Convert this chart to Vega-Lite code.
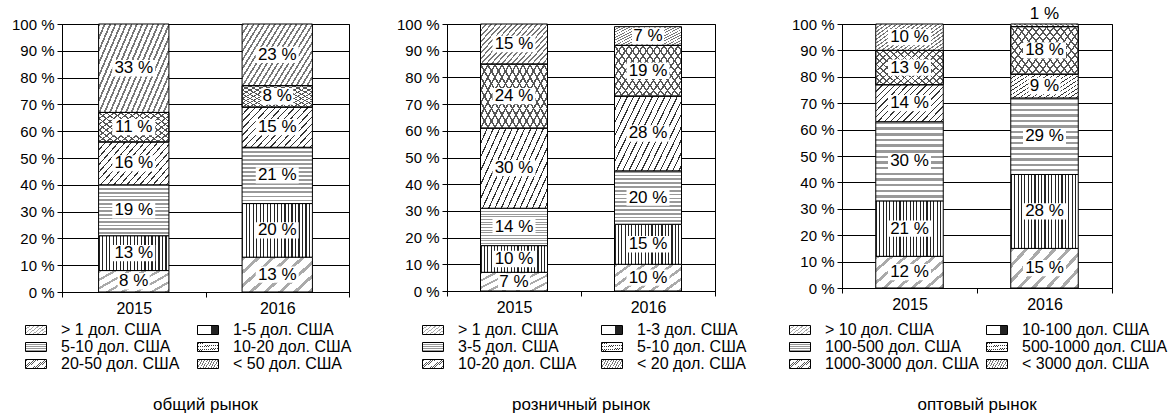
{
"$schema": "https://vega.github.io/schema/vega-lite/v6.json",
"padding": {"left": 10, "top": 4, "right": 5, "bottom": 2},
"params": [
{"name": "g1", "value": {"gradient":"linear","x1":0,"y1":0,"x2":1.3,"y2":0.7,"stops":[
{"offset":0,"color":"#aaa"},{"offset":0.0375,"color":"#aaa"},{"offset":0.0375,"color":"#fff"},{"offset":0.125,"color":"#fff"},
{"offset":0.125,"color":"#aaa"},{"offset":0.1625,"color":"#aaa"},{"offset":0.1625,"color":"#fff"},{"offset":0.25,"color":"#fff"},
{"offset":0.25,"color":"#aaa"},{"offset":0.2875,"color":"#aaa"},{"offset":0.2875,"color":"#fff"},{"offset":0.375,"color":"#fff"},
{"offset":0.375,"color":"#aaa"},{"offset":0.4125,"color":"#aaa"},{"offset":0.4125,"color":"#fff"},{"offset":0.5,"color":"#fff"},
{"offset":0.5,"color":"#aaa"},{"offset":0.5375,"color":"#aaa"},{"offset":0.5375,"color":"#fff"},{"offset":0.625,"color":"#fff"},
{"offset":0.625,"color":"#aaa"},{"offset":0.6625,"color":"#aaa"},{"offset":0.6625,"color":"#fff"},{"offset":0.75,"color":"#fff"},
{"offset":0.75,"color":"#aaa"},{"offset":0.7875,"color":"#aaa"},{"offset":0.7875,"color":"#fff"},{"offset":0.875,"color":"#fff"},
{"offset":0.875,"color":"#aaa"},{"offset":0.9125,"color":"#aaa"},{"offset":0.9125,"color":"#fff"},{"offset":1,"color":"#fff"}]}},
{"name": "g2", "value": {"gradient":"linear","x1":0,"y1":0,"x2":1,"y2":0,"stops":[
{"offset":0,"color":"#222"},{"offset":0.0175,"color":"#222"},{"offset":0.0175,"color":"#fff"},{"offset":0.05,"color":"#fff"},
{"offset":0.05,"color":"#222"},{"offset":0.0675,"color":"#222"},{"offset":0.0675,"color":"#fff"},{"offset":0.1,"color":"#fff"},
{"offset":0.1,"color":"#222"},{"offset":0.1175,"color":"#222"},{"offset":0.1175,"color":"#fff"},{"offset":0.15,"color":"#fff"},
{"offset":0.15,"color":"#222"},{"offset":0.1675,"color":"#222"},{"offset":0.1675,"color":"#fff"},{"offset":0.2,"color":"#fff"},
{"offset":0.2,"color":"#222"},{"offset":0.2175,"color":"#222"},{"offset":0.2175,"color":"#fff"},{"offset":0.25,"color":"#fff"},
{"offset":0.25,"color":"#222"},{"offset":0.2675,"color":"#222"},{"offset":0.2675,"color":"#fff"},{"offset":0.3,"color":"#fff"},
{"offset":0.3,"color":"#222"},{"offset":0.3175,"color":"#222"},{"offset":0.3175,"color":"#fff"},{"offset":0.35,"color":"#fff"},
{"offset":0.35,"color":"#222"},{"offset":0.3675,"color":"#222"},{"offset":0.3675,"color":"#fff"},{"offset":0.4,"color":"#fff"},
{"offset":0.4,"color":"#222"},{"offset":0.4175,"color":"#222"},{"offset":0.4175,"color":"#fff"},{"offset":0.45,"color":"#fff"},
{"offset":0.45,"color":"#222"},{"offset":0.4675,"color":"#222"},{"offset":0.4675,"color":"#fff"},{"offset":0.5,"color":"#fff"},
{"offset":0.5,"color":"#222"},{"offset":0.5175,"color":"#222"},{"offset":0.5175,"color":"#fff"},{"offset":0.55,"color":"#fff"},
{"offset":0.55,"color":"#222"},{"offset":0.5675,"color":"#222"},{"offset":0.5675,"color":"#fff"},{"offset":0.6,"color":"#fff"},
{"offset":0.6,"color":"#222"},{"offset":0.6175,"color":"#222"},{"offset":0.6175,"color":"#fff"},{"offset":0.65,"color":"#fff"},
{"offset":0.65,"color":"#222"},{"offset":0.6675,"color":"#222"},{"offset":0.6675,"color":"#fff"},{"offset":0.7,"color":"#fff"},
{"offset":0.7,"color":"#222"},{"offset":0.7175,"color":"#222"},{"offset":0.7175,"color":"#fff"},{"offset":0.75,"color":"#fff"},
{"offset":0.75,"color":"#222"},{"offset":0.7675,"color":"#222"},{"offset":0.7675,"color":"#fff"},{"offset":0.8,"color":"#fff"},
{"offset":0.8,"color":"#222"},{"offset":0.8175,"color":"#222"},{"offset":0.8175,"color":"#fff"},{"offset":0.85,"color":"#fff"},
{"offset":0.85,"color":"#222"},{"offset":0.8675,"color":"#222"},{"offset":0.8675,"color":"#fff"},{"offset":0.9,"color":"#fff"},
{"offset":0.9,"color":"#222"},{"offset":0.9175,"color":"#222"},{"offset":0.9175,"color":"#fff"},{"offset":0.95,"color":"#fff"},
{"offset":0.95,"color":"#222"},{"offset":0.9675,"color":"#222"},{"offset":0.9675,"color":"#fff"},{"offset":1,"color":"#fff"}]}},
{"name": "g2l", "value": {"gradient":"linear","x1":0,"y1":0,"x2":1,"y2":0,"stops":[
{"offset":0,"color":"#fff"},{"offset":0.1,"color":"#fff"},{"offset":0.1,"color":"#222"},{"offset":0.16,"color":"#222"},{"offset":0.16,"color":"#fff"},
{"offset":0.26,"color":"#fff"},{"offset":0.26,"color":"#222"},{"offset":0.32,"color":"#222"},{"offset":0.32,"color":"#fff"},
{"offset":0.42,"color":"#fff"},{"offset":0.42,"color":"#222"},{"offset":0.48,"color":"#222"},{"offset":0.48,"color":"#fff"},
{"offset":0.58,"color":"#fff"},{"offset":0.58,"color":"#222"},{"offset":0.64,"color":"#222"},{"offset":0.64,"color":"#fff"},
{"offset":0.74,"color":"#fff"},{"offset":0.74,"color":"#222"},{"offset":0.8,"color":"#222"},{"offset":0.8,"color":"#fff"},{"offset":1,"color":"#fff"}]}},
{"name": "g3", "value": {"gradient":"linear","x1":0,"y1":0,"x2":0,"y2":1,"stops":[
{"offset":0,"color":"#999"},{"offset":0.0321,"color":"#999"},{"offset":0.0321,"color":"#fff"},{"offset":0.0714,"color":"#fff"},
{"offset":0.0714,"color":"#999"},{"offset":0.1035,"color":"#999"},{"offset":0.1035,"color":"#fff"},{"offset":0.1429,"color":"#fff"},
{"offset":0.1429,"color":"#999"},{"offset":0.175,"color":"#999"},{"offset":0.175,"color":"#fff"},{"offset":0.2143,"color":"#fff"},
{"offset":0.2143,"color":"#999"},{"offset":0.2464,"color":"#999"},{"offset":0.2464,"color":"#fff"},{"offset":0.2857,"color":"#fff"},
{"offset":0.2857,"color":"#999"},{"offset":0.3178,"color":"#999"},{"offset":0.3178,"color":"#fff"},{"offset":0.3571,"color":"#fff"},
{"offset":0.3571,"color":"#999"},{"offset":0.3892,"color":"#999"},{"offset":0.3892,"color":"#fff"},{"offset":0.4286,"color":"#fff"},
{"offset":0.4286,"color":"#999"},{"offset":0.4607,"color":"#999"},{"offset":0.4607,"color":"#fff"},{"offset":0.5,"color":"#fff"},
{"offset":0.5,"color":"#999"},{"offset":0.5321,"color":"#999"},{"offset":0.5321,"color":"#fff"},{"offset":0.5714,"color":"#fff"},
{"offset":0.5714,"color":"#999"},{"offset":0.6035,"color":"#999"},{"offset":0.6035,"color":"#fff"},{"offset":0.6429,"color":"#fff"},
{"offset":0.6429,"color":"#999"},{"offset":0.675,"color":"#999"},{"offset":0.675,"color":"#fff"},{"offset":0.7143,"color":"#fff"},
{"offset":0.7143,"color":"#999"},{"offset":0.7464,"color":"#999"},{"offset":0.7464,"color":"#fff"},{"offset":0.7857,"color":"#fff"},
{"offset":0.7857,"color":"#999"},{"offset":0.8178,"color":"#999"},{"offset":0.8178,"color":"#fff"},{"offset":0.8571,"color":"#fff"},
{"offset":0.8571,"color":"#999"},{"offset":0.8892,"color":"#999"},{"offset":0.8892,"color":"#fff"},{"offset":0.9286,"color":"#fff"},
{"offset":0.9286,"color":"#999"},{"offset":0.9607,"color":"#999"},{"offset":0.9607,"color":"#fff"},{"offset":1,"color":"#fff"}]}},
{"name": "g4", "value": {"gradient":"linear","x1":0,"y1":0,"x2":1.3,"y2":0.7,"stops":[
{"offset":0,"color":"#333"},{"offset":0.0111,"color":"#333"},{"offset":0.0111,"color":"#fff"},{"offset":0.0556,"color":"#fff"},
{"offset":0.0556,"color":"#333"},{"offset":0.0667,"color":"#333"},{"offset":0.0667,"color":"#fff"},{"offset":0.1111,"color":"#fff"},
{"offset":0.1111,"color":"#333"},{"offset":0.1222,"color":"#333"},{"offset":0.1222,"color":"#fff"},{"offset":0.1667,"color":"#fff"},
{"offset":0.1667,"color":"#333"},{"offset":0.1778,"color":"#333"},{"offset":0.1778,"color":"#fff"},{"offset":0.2222,"color":"#fff"},
{"offset":0.2222,"color":"#333"},{"offset":0.2333,"color":"#333"},{"offset":0.2333,"color":"#fff"},{"offset":0.2778,"color":"#fff"},
{"offset":0.2778,"color":"#333"},{"offset":0.2889,"color":"#333"},{"offset":0.2889,"color":"#fff"},{"offset":0.3333,"color":"#fff"},
{"offset":0.3333,"color":"#333"},{"offset":0.3444,"color":"#333"},{"offset":0.3444,"color":"#fff"},{"offset":0.3889,"color":"#fff"},
{"offset":0.3889,"color":"#333"},{"offset":0.4,"color":"#333"},{"offset":0.4,"color":"#fff"},{"offset":0.4444,"color":"#fff"},
{"offset":0.4444,"color":"#333"},{"offset":0.4555,"color":"#333"},{"offset":0.4555,"color":"#fff"},{"offset":0.5,"color":"#fff"},
{"offset":0.5,"color":"#333"},{"offset":0.5111,"color":"#333"},{"offset":0.5111,"color":"#fff"},{"offset":0.5556,"color":"#fff"},
{"offset":0.5556,"color":"#333"},{"offset":0.5667,"color":"#333"},{"offset":0.5667,"color":"#fff"},{"offset":0.6111,"color":"#fff"},
{"offset":0.6111,"color":"#333"},{"offset":0.6222,"color":"#333"},{"offset":0.6222,"color":"#fff"},{"offset":0.6667,"color":"#fff"},
{"offset":0.6667,"color":"#333"},{"offset":0.6778,"color":"#333"},{"offset":0.6778,"color":"#fff"},{"offset":0.7222,"color":"#fff"},
{"offset":0.7222,"color":"#333"},{"offset":0.7333,"color":"#333"},{"offset":0.7333,"color":"#fff"},{"offset":0.7778,"color":"#fff"},
{"offset":0.7778,"color":"#333"},{"offset":0.7889,"color":"#333"},{"offset":0.7889,"color":"#fff"},{"offset":0.8333,"color":"#fff"},
{"offset":0.8333,"color":"#333"},{"offset":0.8444,"color":"#333"},{"offset":0.8444,"color":"#fff"},{"offset":0.8889,"color":"#fff"},
{"offset":0.8889,"color":"#333"},{"offset":0.9,"color":"#333"},{"offset":0.9,"color":"#fff"},{"offset":1,"color":"#fff"}]}},
{"name": "g5", "value": {"gradient":"linear","x1":0,"y1":1,"x2":1.3,"y2":0.3,"stops":[
{"offset":0,"color":"#555"},{"offset":0.0156,"color":"#555"},{"offset":0.0156,"color":"#fff"},{"offset":0.0625,"color":"#fff"},
{"offset":0.0625,"color":"#555"},{"offset":0.0781,"color":"#555"},{"offset":0.0781,"color":"#fff"},{"offset":0.125,"color":"#fff"},
{"offset":0.125,"color":"#555"},{"offset":0.1406,"color":"#555"},{"offset":0.1406,"color":"#fff"},{"offset":0.1875,"color":"#fff"},
{"offset":0.1875,"color":"#555"},{"offset":0.2031,"color":"#555"},{"offset":0.2031,"color":"#fff"},{"offset":0.25,"color":"#fff"},
{"offset":0.25,"color":"#555"},{"offset":0.2656,"color":"#555"},{"offset":0.2656,"color":"#fff"},{"offset":0.3125,"color":"#fff"},
{"offset":0.3125,"color":"#555"},{"offset":0.3281,"color":"#555"},{"offset":0.3281,"color":"#fff"},{"offset":0.375,"color":"#fff"},
{"offset":0.375,"color":"#555"},{"offset":0.3906,"color":"#555"},{"offset":0.3906,"color":"#fff"},{"offset":0.4375,"color":"#fff"},
{"offset":0.4375,"color":"#555"},{"offset":0.4531,"color":"#555"},{"offset":0.4531,"color":"#fff"},{"offset":0.5,"color":"#fff"},
{"offset":0.5,"color":"#555"},{"offset":0.5156,"color":"#555"},{"offset":0.5156,"color":"#fff"},{"offset":0.5625,"color":"#fff"},
{"offset":0.5625,"color":"#555"},{"offset":0.5781,"color":"#555"},{"offset":0.5781,"color":"#fff"},{"offset":0.625,"color":"#fff"},
{"offset":0.625,"color":"#555"},{"offset":0.6406,"color":"#555"},{"offset":0.6406,"color":"#fff"},{"offset":0.6875,"color":"#fff"},
{"offset":0.6875,"color":"#555"},{"offset":0.7031,"color":"#555"},{"offset":0.7031,"color":"#fff"},{"offset":0.75,"color":"#fff"},
{"offset":0.75,"color":"#555"},{"offset":0.7656,"color":"#555"},{"offset":0.7656,"color":"#fff"},{"offset":0.8125,"color":"#fff"},
{"offset":0.8125,"color":"#555"},{"offset":0.8281,"color":"#555"},{"offset":0.8281,"color":"#fff"},{"offset":0.875,"color":"#fff"},
{"offset":0.875,"color":"#555"},{"offset":0.8906,"color":"#555"},{"offset":0.8906,"color":"#fff"},{"offset":1,"color":"#fff"}]}},
{"name": "g5b", "value": {"gradient":"linear","x1":0,"y1":0,"x2":1.3,"y2":0.7,"stops":[
{"offset":0,"color":"#555"},{"offset":0.0156,"color":"#555"},{"offset":0.0156,"color":"rgba(255,255,255,0)"},{"offset":0.0625,"color":"rgba(255,255,255,0)"},
{"offset":0.0625,"color":"#555"},{"offset":0.0781,"color":"#555"},{"offset":0.0781,"color":"rgba(255,255,255,0)"},{"offset":0.125,"color":"rgba(255,255,255,0)"},
{"offset":0.125,"color":"#555"},{"offset":0.1406,"color":"#555"},{"offset":0.1406,"color":"rgba(255,255,255,0)"},{"offset":0.1875,"color":"rgba(255,255,255,0)"},
{"offset":0.1875,"color":"#555"},{"offset":0.2031,"color":"#555"},{"offset":0.2031,"color":"rgba(255,255,255,0)"},{"offset":0.25,"color":"rgba(255,255,255,0)"},
{"offset":0.25,"color":"#555"},{"offset":0.2656,"color":"#555"},{"offset":0.2656,"color":"rgba(255,255,255,0)"},{"offset":0.3125,"color":"rgba(255,255,255,0)"},
{"offset":0.3125,"color":"#555"},{"offset":0.3281,"color":"#555"},{"offset":0.3281,"color":"rgba(255,255,255,0)"},{"offset":0.375,"color":"rgba(255,255,255,0)"},
{"offset":0.375,"color":"#555"},{"offset":0.3906,"color":"#555"},{"offset":0.3906,"color":"rgba(255,255,255,0)"},{"offset":0.4375,"color":"rgba(255,255,255,0)"},
{"offset":0.4375,"color":"#555"},{"offset":0.4531,"color":"#555"},{"offset":0.4531,"color":"rgba(255,255,255,0)"},{"offset":0.5,"color":"rgba(255,255,255,0)"},
{"offset":0.5,"color":"#555"},{"offset":0.5156,"color":"#555"},{"offset":0.5156,"color":"rgba(255,255,255,0)"},{"offset":0.5625,"color":"rgba(255,255,255,0)"},
{"offset":0.5625,"color":"#555"},{"offset":0.5781,"color":"#555"},{"offset":0.5781,"color":"rgba(255,255,255,0)"},{"offset":0.625,"color":"rgba(255,255,255,0)"},
{"offset":0.625,"color":"#555"},{"offset":0.6406,"color":"#555"},{"offset":0.6406,"color":"rgba(255,255,255,0)"},{"offset":0.6875,"color":"rgba(255,255,255,0)"},
{"offset":0.6875,"color":"#555"},{"offset":0.7031,"color":"#555"},{"offset":0.7031,"color":"rgba(255,255,255,0)"},{"offset":0.75,"color":"rgba(255,255,255,0)"},
{"offset":0.75,"color":"#555"},{"offset":0.7656,"color":"#555"},{"offset":0.7656,"color":"rgba(255,255,255,0)"},{"offset":0.8125,"color":"rgba(255,255,255,0)"},
{"offset":0.8125,"color":"#555"},{"offset":0.8281,"color":"#555"},{"offset":0.8281,"color":"rgba(255,255,255,0)"},{"offset":0.875,"color":"rgba(255,255,255,0)"},
{"offset":0.875,"color":"#555"},{"offset":0.8906,"color":"#555"},{"offset":0.8906,"color":"rgba(255,255,255,0)"},{"offset":1,"color":"rgba(255,255,255,0)"}]}},
{"name": "g6", "value": {"gradient":"linear","x1":0,"y1":0,"x2":1.3,"y2":0.7,"stops":[
{"offset":0,"color":"#777"},{"offset":0.0159,"color":"#777"},{"offset":0.0159,"color":"#fff"},{"offset":0.0455,"color":"#fff"},
{"offset":0.0455,"color":"#777"},{"offset":0.0614,"color":"#777"},{"offset":0.0614,"color":"#fff"},{"offset":0.0909,"color":"#fff"},
{"offset":0.0909,"color":"#777"},{"offset":0.1068,"color":"#777"},{"offset":0.1068,"color":"#fff"},{"offset":0.1364,"color":"#fff"},
{"offset":0.1364,"color":"#777"},{"offset":0.1523,"color":"#777"},{"offset":0.1523,"color":"#fff"},{"offset":0.1818,"color":"#fff"},
{"offset":0.1818,"color":"#777"},{"offset":0.1977,"color":"#777"},{"offset":0.1977,"color":"#fff"},{"offset":0.2273,"color":"#fff"},
{"offset":0.2273,"color":"#777"},{"offset":0.2432,"color":"#777"},{"offset":0.2432,"color":"#fff"},{"offset":0.2727,"color":"#fff"},
{"offset":0.2727,"color":"#777"},{"offset":0.2886,"color":"#777"},{"offset":0.2886,"color":"#fff"},{"offset":0.3182,"color":"#fff"},
{"offset":0.3182,"color":"#777"},{"offset":0.3341,"color":"#777"},{"offset":0.3341,"color":"#fff"},{"offset":0.3636,"color":"#fff"},
{"offset":0.3636,"color":"#777"},{"offset":0.3795,"color":"#777"},{"offset":0.3795,"color":"#fff"},{"offset":0.4091,"color":"#fff"},
{"offset":0.4091,"color":"#777"},{"offset":0.425,"color":"#777"},{"offset":0.425,"color":"#fff"},{"offset":0.4545,"color":"#fff"},
{"offset":0.4545,"color":"#777"},{"offset":0.4704,"color":"#777"},{"offset":0.4704,"color":"#fff"},{"offset":0.5,"color":"#fff"},
{"offset":0.5,"color":"#777"},{"offset":0.5159,"color":"#777"},{"offset":0.5159,"color":"#fff"},{"offset":0.5455,"color":"#fff"},
{"offset":0.5455,"color":"#777"},{"offset":0.5614,"color":"#777"},{"offset":0.5614,"color":"#fff"},{"offset":0.5909,"color":"#fff"},
{"offset":0.5909,"color":"#777"},{"offset":0.6068,"color":"#777"},{"offset":0.6068,"color":"#fff"},{"offset":0.6364,"color":"#fff"},
{"offset":0.6364,"color":"#777"},{"offset":0.6523,"color":"#777"},{"offset":0.6523,"color":"#fff"},{"offset":0.6818,"color":"#fff"},
{"offset":0.6818,"color":"#777"},{"offset":0.6977,"color":"#777"},{"offset":0.6977,"color":"#fff"},{"offset":0.7273,"color":"#fff"},
{"offset":0.7273,"color":"#777"},{"offset":0.7432,"color":"#777"},{"offset":0.7432,"color":"#fff"},{"offset":0.7727,"color":"#fff"},
{"offset":0.7727,"color":"#777"},{"offset":0.7886,"color":"#777"},{"offset":0.7886,"color":"#fff"},{"offset":0.8182,"color":"#fff"},
{"offset":0.8182,"color":"#777"},{"offset":0.8341,"color":"#777"},{"offset":0.8341,"color":"#fff"},{"offset":0.8636,"color":"#fff"},
{"offset":0.8636,"color":"#777"},{"offset":0.8795,"color":"#777"},{"offset":0.8795,"color":"#fff"},{"offset":0.9091,"color":"#fff"},
{"offset":0.9091,"color":"#777"},{"offset":0.925,"color":"#777"},{"offset":0.925,"color":"#fff"},{"offset":1,"color":"#fff"}]}}
],
"data": {"values": [
{"market":"общий рынок","year":"2015","cat":1,"label":"> 1 дол. США","value":8},
{"market":"общий рынок","year":"2015","cat":2,"label":"1-5 дол. США","value":13},
{"market":"общий рынок","year":"2015","cat":3,"label":"5-10 дол. США","value":19},
{"market":"общий рынок","year":"2015","cat":4,"label":"10-20 дол. США","value":16},
{"market":"общий рынок","year":"2015","cat":5,"label":"20-50 дол. США","value":11},
{"market":"общий рынок","year":"2015","cat":6,"label":"< 50 дол. США","value":33},
{"market":"общий рынок","year":"2016","cat":1,"label":"> 1 дол. США","value":13},
{"market":"общий рынок","year":"2016","cat":2,"label":"1-5 дол. США","value":20},
{"market":"общий рынок","year":"2016","cat":3,"label":"5-10 дол. США","value":21},
{"market":"общий рынок","year":"2016","cat":4,"label":"10-20 дол. США","value":15},
{"market":"общий рынок","year":"2016","cat":5,"label":"20-50 дол. США","value":8},
{"market":"общий рынок","year":"2016","cat":6,"label":"< 50 дол. США","value":23},
{"market":"розничный рынок","year":"2015","cat":1,"label":"> 1 дол. США","value":7},
{"market":"розничный рынок","year":"2015","cat":2,"label":"1-3 дол. США","value":10},
{"market":"розничный рынок","year":"2015","cat":3,"label":"3-5 дол. США","value":14},
{"market":"розничный рынок","year":"2015","cat":4,"label":"5-10 дол. США","value":30},
{"market":"розничный рынок","year":"2015","cat":5,"label":"10-20 дол. США","value":24},
{"market":"розничный рынок","year":"2015","cat":6,"label":"< 20 дол. США","value":15},
{"market":"розничный рынок","year":"2016","cat":1,"label":"> 1 дол. США","value":10},
{"market":"розничный рынок","year":"2016","cat":2,"label":"1-3 дол. США","value":15},
{"market":"розничный рынок","year":"2016","cat":3,"label":"3-5 дол. США","value":20},
{"market":"розничный рынок","year":"2016","cat":4,"label":"5-10 дол. США","value":28},
{"market":"розничный рынок","year":"2016","cat":5,"label":"10-20 дол. США","value":19},
{"market":"розничный рынок","year":"2016","cat":6,"label":"< 20 дол. США","value":7},
{"market":"оптовый рынок","year":"2015","cat":1,"label":"> 10 дол. США","value":12},
{"market":"оптовый рынок","year":"2015","cat":2,"label":"10-100 дол. США","value":21},
{"market":"оптовый рынок","year":"2015","cat":3,"label":"100-500 дол. США","value":30},
{"market":"оптовый рынок","year":"2015","cat":4,"label":"500-1000 дол. США","value":14},
{"market":"оптовый рынок","year":"2015","cat":5,"label":"1000-3000 дол. США","value":13},
{"market":"оптовый рынок","year":"2015","cat":6,"label":"< 3000 дол. США","value":10},
{"market":"оптовый рынок","year":"2016","cat":1,"label":"> 10 дол. США","value":15},
{"market":"оптовый рынок","year":"2016","cat":2,"label":"10-100 дол. США","value":28},
{"market":"оптовый рынок","year":"2016","cat":3,"label":"100-500 дол. США","value":29},
{"market":"оптовый рынок","year":"2016","cat":4,"label":"500-1000 дол. США","value":9},
{"market":"оптовый рынок","year":"2016","cat":5,"label":"1000-3000 дол. США","value":18},
{"market":"оптовый рынок","year":"2016","cat":6,"label":"< 3000 дол. США","value":1}
]},
"transform": [
{"stack": "value", "groupby": ["market", "year"], "sort": [{"field": "cat", "order": "ascending"}], "as": ["y0", "y1"]},
{"calculate": "(datum.y0 + datum.y1) / 2", "as": "ym"},
{"calculate": "datum.value + ' %'", "as": "txt"}
],
"spacing": 42,
"resolve": {"scale": {"x": "independent", "y": "independent", "fill": "independent"}, "legend": {"fill": "independent"}},
"hconcat": [
{
"width": 287, "height": 268,
"title": {"text": "общий рынок", "orient": "bottom", "offset": 25},
"transform": [{"filter": "datum.market == 'общий рынок'"}],
"encoding": {"x": {"field": "year", "type": "ordinal", "scale": {"paddingInner": 0, "paddingOuter": 0}, "axis": {"labelAngle": 0, "tickBand": "extent", "title": null, "labelPadding": 3, "tickSize": 5, "labelFontSize": 16}}},
"layer": [
{"mark": {"type": "bar", "width": {"band": 0.49}, "stroke": "black", "strokeWidth": 1},
 "encoding": {
  "y": {"field": "y0", "type": "quantitative", "scale": {"domain": [0, 100]}, "axis": {"tickCount": 10, "labelExpr": "datum.value + ' %'", "grid": true, "title": null, "tickSize": 5, "labelPadding": 3}},
  "y2": {"field": "y1"},
  "fill": {"field": "label", "type": "nominal", "scale": {"domain": ["> 1 дол. США","5-10 дол. США","20-50 дол. США","1-5 дол. США","10-20 дол. США","< 50 дол. США"], "range": [{"expr": "g1"}, {"expr": "g3"}, {"expr": "g5"}, {"expr": "g2"}, {"expr": "g4"}, {"expr": "g6"}]}, "legend": {"orient": "none", "legendX": -34, "legendY": 298, "columnPadding": 15, "encode": {"symbols": {"update": {"fill": {"signal": "[g1, g3, g5, g2l, g4, g6][datum.index]"}, "stroke": {"value": "black"}, "strokeWidth": {"value": 1}}}}}}}},
{"transform": [{"filter": "datum.cat == 5"}], "mark": {"type": "bar", "width": {"band": 0.49}, "fill": {"expr": "g5b"}, "stroke": "black", "strokeWidth": 1},
 "encoding": {"y": {"field": "y0", "type": "quantitative", "axis": {"tickCount": 10, "labelExpr": "datum.value + ' %'", "grid": true, "title": null, "tickSize": 5, "labelPadding": 3}}, "y2": {"field": "y1"}}},
{"transform": [{"filter": "datum.value >= 10"}], "mark": {"type": "point", "shape": "M-1,-0.38H1V0.38H-1Z", "size": 1849, "filled": true, "fill": "white", "opacity": 1, "strokeWidth": 0},
 "encoding": {"y": {"field": "ym", "type": "quantitative", "axis": {"tickCount": 10, "labelExpr": "datum.value + ' %'", "grid": true, "title": null, "tickSize": 5, "labelPadding": 3}}}},
{"transform": [{"filter": "datum.value >= 3 && datum.value < 10"}], "mark": {"type": "point", "shape": "M-1,-0.52H1V0.52H-1Z", "size": 1024, "filled": true, "fill": "white", "opacity": 1, "strokeWidth": 0},
 "encoding": {"y": {"field": "ym", "type": "quantitative", "axis": {"tickCount": 10, "labelExpr": "datum.value + ' %'", "grid": true, "title": null, "tickSize": 5, "labelPadding": 3}}}},
{"transform": [{"filter": "datum.value >= 3"}], "mark": {"type": "text", "fontSize": 17, "baseline": "middle", "fill": "black"},
 "encoding": {"y": {"field": "ym", "type": "quantitative", "axis": {"tickCount": 10, "labelExpr": "datum.value + ' %'", "grid": true, "title": null, "tickSize": 5, "labelPadding": 3}}, "text": {"field": "txt"}}},
{"transform": [{"filter": "datum.value < 3"}], "mark": {"type": "text", "fontSize": 17, "baseline": "middle", "fill": "black", "dy": -10},
 "encoding": {"y": {"field": "y1", "type": "quantitative", "axis": {"tickCount": 10, "labelExpr": "datum.value + ' %'", "grid": true, "title": null, "tickSize": 5, "labelPadding": 3}}, "text": {"field": "txt"}}}
]
},
{
"width": 268, "height": 267,
"title": {"text": "розничный рынок", "orient": "bottom", "offset": 25},
"transform": [{"filter": "datum.market == 'розничный рынок'"}],
"encoding": {"x": {"field": "year", "type": "ordinal", "scale": {"paddingInner": 0, "paddingOuter": 0}, "axis": {"labelAngle": 0, "tickBand": "extent", "title": null, "labelPadding": 3, "tickSize": 5, "labelFontSize": 16}}},
"layer": [
{"mark": {"type": "bar", "width": {"band": 0.5}, "stroke": "black", "strokeWidth": 1},
 "encoding": {
  "y": {"field": "y0", "type": "quantitative", "scale": {"domain": [0, 100]}, "axis": {"tickCount": 10, "labelExpr": "datum.value + ' %'", "grid": true, "title": null, "tickSize": 5, "labelPadding": 3}},
  "y2": {"field": "y1"},
  "fill": {"field": "label", "type": "nominal", "scale": {"domain": ["> 1 дол. США","3-5 дол. США","10-20 дол. США","1-3 дол. США","5-10 дол. США","< 20 дол. США"], "range": [{"expr": "g1"}, {"expr": "g3"}, {"expr": "g5"}, {"expr": "g2"}, {"expr": "g4"}, {"expr": "g6"}]}, "legend": {"orient": "none", "legendX": -22, "legendY": 298, "columnPadding": 22, "encode": {"symbols": {"update": {"fill": {"signal": "[g1, g3, g5, g2l, g4, g6][datum.index]"}, "stroke": {"value": "black"}, "strokeWidth": {"value": 1}}}}}}}},
{"transform": [{"filter": "datum.cat == 5"}], "mark": {"type": "bar", "width": {"band": 0.5}, "fill": {"expr": "g5b"}, "stroke": "black", "strokeWidth": 1},
 "encoding": {"y": {"field": "y0", "type": "quantitative", "axis": {"tickCount": 10, "labelExpr": "datum.value + ' %'", "grid": true, "title": null, "tickSize": 5, "labelPadding": 3}}, "y2": {"field": "y1"}}},
{"transform": [{"filter": "datum.value >= 10"}], "mark": {"type": "point", "shape": "M-1,-0.38H1V0.38H-1Z", "size": 1849, "filled": true, "fill": "white", "opacity": 1, "strokeWidth": 0},
 "encoding": {"y": {"field": "ym", "type": "quantitative", "axis": {"tickCount": 10, "labelExpr": "datum.value + ' %'", "grid": true, "title": null, "tickSize": 5, "labelPadding": 3}}}},
{"transform": [{"filter": "datum.value >= 3 && datum.value < 10"}], "mark": {"type": "point", "shape": "M-1,-0.52H1V0.52H-1Z", "size": 1024, "filled": true, "fill": "white", "opacity": 1, "strokeWidth": 0},
 "encoding": {"y": {"field": "ym", "type": "quantitative", "axis": {"tickCount": 10, "labelExpr": "datum.value + ' %'", "grid": true, "title": null, "tickSize": 5, "labelPadding": 3}}}},
{"transform": [{"filter": "datum.value >= 3"}], "mark": {"type": "text", "fontSize": 17, "baseline": "middle", "fill": "black"},
 "encoding": {"y": {"field": "ym", "type": "quantitative", "axis": {"tickCount": 10, "labelExpr": "datum.value + ' %'", "grid": true, "title": null, "tickSize": 5, "labelPadding": 3}}, "text": {"field": "txt"}}},
{"transform": [{"filter": "datum.value < 3"}], "mark": {"type": "text", "fontSize": 17, "baseline": "middle", "fill": "black", "dy": -10},
 "encoding": {"y": {"field": "y1", "type": "quantitative", "axis": {"tickCount": 10, "labelExpr": "datum.value + ' %'", "grid": true, "title": null, "tickSize": 5, "labelPadding": 3}}, "text": {"field": "txt"}}}
]
},
{
"width": 270, "height": 264,
"title": {"text": "оптовый рынок", "orient": "bottom", "offset": 25},
"transform": [{"filter": "datum.market == 'оптовый рынок'"}],
"encoding": {"x": {"field": "year", "type": "ordinal", "scale": {"paddingInner": 0, "paddingOuter": 0}, "axis": {"labelAngle": 0, "tickBand": "extent", "title": null, "labelPadding": 3, "tickSize": 5, "labelFontSize": 16}}},
"layer": [
{"mark": {"type": "bar", "width": {"band": 0.5}, "stroke": "black", "strokeWidth": 1},
 "encoding": {
  "y": {"field": "y0", "type": "quantitative", "scale": {"domain": [0, 100]}, "axis": {"tickCount": 10, "labelExpr": "datum.value + ' %'", "grid": true, "title": null, "tickSize": 5, "labelPadding": 3}},
  "y2": {"field": "y1"},
  "fill": {"field": "label", "type": "nominal", "scale": {"domain": ["> 10 дол. США","100-500 дол. США","1000-3000 дол. США","10-100 дол. США","500-1000 дол. США","< 3000 дол. США"], "range": [{"expr": "g1"}, {"expr": "g3"}, {"expr": "g5"}, {"expr": "g2"}, {"expr": "g4"}, {"expr": "g6"}]}, "legend": {"orient": "none", "legendX": -50, "legendY": 298, "columnPadding": 5, "encode": {"symbols": {"update": {"fill": {"signal": "[g1, g3, g5, g2l, g4, g6][datum.index]"}, "stroke": {"value": "black"}, "strokeWidth": {"value": 1}}}}}}}},
{"transform": [{"filter": "datum.cat == 5"}], "mark": {"type": "bar", "width": {"band": 0.5}, "fill": {"expr": "g5b"}, "stroke": "black", "strokeWidth": 1},
 "encoding": {"y": {"field": "y0", "type": "quantitative", "axis": {"tickCount": 10, "labelExpr": "datum.value + ' %'", "grid": true, "title": null, "tickSize": 5, "labelPadding": 3}}, "y2": {"field": "y1"}}},
{"transform": [{"filter": "datum.value >= 10"}], "mark": {"type": "point", "shape": "M-1,-0.38H1V0.38H-1Z", "size": 1849, "filled": true, "fill": "white", "opacity": 1, "strokeWidth": 0},
 "encoding": {"y": {"field": "ym", "type": "quantitative", "axis": {"tickCount": 10, "labelExpr": "datum.value + ' %'", "grid": true, "title": null, "tickSize": 5, "labelPadding": 3}}}},
{"transform": [{"filter": "datum.value >= 3 && datum.value < 10"}], "mark": {"type": "point", "shape": "M-1,-0.52H1V0.52H-1Z", "size": 1024, "filled": true, "fill": "white", "opacity": 1, "strokeWidth": 0},
 "encoding": {"y": {"field": "ym", "type": "quantitative", "axis": {"tickCount": 10, "labelExpr": "datum.value + ' %'", "grid": true, "title": null, "tickSize": 5, "labelPadding": 3}}}},
{"transform": [{"filter": "datum.value >= 3"}], "mark": {"type": "text", "fontSize": 17, "baseline": "middle", "fill": "black"},
 "encoding": {"y": {"field": "ym", "type": "quantitative", "axis": {"tickCount": 10, "labelExpr": "datum.value + ' %'", "grid": true, "title": null, "tickSize": 5, "labelPadding": 3}}, "text": {"field": "txt"}}},
{"transform": [{"filter": "datum.value < 3"}], "mark": {"type": "text", "fontSize": 17, "baseline": "middle", "fill": "black", "dy": -10},
 "encoding": {"y": {"field": "y1", "type": "quantitative", "axis": {"tickCount": 10, "labelExpr": "datum.value + ' %'", "grid": true, "title": null, "tickSize": 5, "labelPadding": 3}}, "text": {"field": "txt"}}}
]
}
],
"config": {
 "font": "Liberation Sans",
 "background": "white",
 "view": {"stroke": "black", "strokeWidth": 1},
 "axis": {"labelFont": "Liberation Sans", "labelFontSize": 15, "labelColor": "black", "domainColor": "black", "tickColor": "black", "gridColor": "black", "gridOpacity": 1, "domainWidth": 1, "tickWidth": 1, "gridWidth": 1},
 "legend": {"labelFont": "Liberation Sans", "labelFontSize": 16, "labelColor": "black", "symbolType": "M-1.4,-0.6H1.4V0.6H-1.4Z", "symbolSize": 225, "symbolStrokeColor": "black", "symbolStrokeWidth": 1, "labelOffset": 17, "padding": 0, "rowPadding": 1, "columns": 2, "title": null},
 "title": {"font": "Liberation Sans", "fontSize": 17, "fontWeight": "normal", "color": "black"}
}
}
